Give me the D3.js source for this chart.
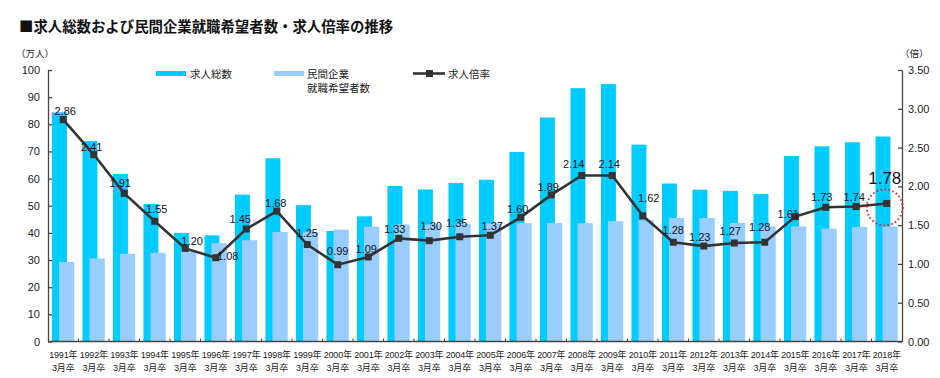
<!DOCTYPE html>
<html><head><meta charset="utf-8">
<script src="https://cdn.jsdelivr.net/npm/d3@7"></script>
<style>
body{margin:0;background:#fff;}
svg{display:block;font-family:"Liberation Sans","Noto Sans CJK JP",sans-serif;}
.jp{font-family:"Noto Sans CJK JP",sans-serif;}
.mix{font-family:"Liberation Sans","Noto Sans CJK JP",sans-serif;}
</style></head>
<body><svg id="c" width="940" height="378"></svg>
<script>
const years = ["1991","1992","1993","1994","1995","1996","1997","1998","1999","2000","2001","2002","2003","2004","2005","2006","2007","2008","2009","2010","2011","2012","2013","2014","2015","2016","2017","2018"];
const jobOffers = [84.4,73.8,61.7,50.7,40.0,39.1,54.1,67.5,50.2,40.7,46.1,57.3,56.0,58.4,59.6,69.8,82.5,93.3,94.8,72.5,58.2,55.9,55.5,54.3,68.3,71.9,73.4,75.5];
const applicants = [29.3,30.6,32.3,32.7,33.3,36.2,37.3,40.3,40.3,41.2,42.3,43.1,43.1,43.3,43.5,43.6,43.7,43.6,44.3,44.7,45.5,45.5,43.7,42.4,42.4,41.6,42.2,42.4];
const ratio = [2.86,2.41,1.91,1.55,1.20,1.08,1.45,1.68,1.25,0.99,1.09,1.33,1.30,1.35,1.37,1.60,1.89,2.14,2.14,1.62,1.28,1.23,1.27,1.28,1.61,1.73,1.74,1.78];
const leftTicks = [0,10,20,30,40,50,60,70,80,90,100];
const rightTicks = [0,0.5,1,1.5,2,2.5,3,3.5];
const seriesNames = ["求人総数","民間企業","就職希望者数","求人倍率"];
const title = "■求人総数および民間企業就職希望者数・求人倍率の推移";

// label offsets (dx, dy of label centre relative to point)
const lblOff = [[2,-9],[-2,-8],[-4,-10],[2,-12],[7,-7],[12,-2],[-6,-10],[-1,-8],[0,-11],[0,-14],[-2,-8],[-4,-9],[2,-15],[-3,-14],[2,-9],[-3,-8],[-3,-8],[-8,-11],[-3,-11],[6,-18],[0,-12],[-4,-9],[-4,-12],[-5,-15],[-7,-3],[-4,-10],[-2,-9],[-2,-26]];

const svg = d3.select("#c");
const L = 48, R = 902, T = 70, B = 341.5;
const x = d3.scaleBand().domain(years).range([L, R]).paddingInner(0).paddingOuter(0);
const yL = d3.scaleLinear().domain([0,100]).range([B, T]);
const yR = d3.scaleLinear().domain([0,3.5]).range([B, T]);
const bw = x.bandwidth();
const CYAN = "#00CCFF", LBLUE = "#99CCFF", LINE = "#333333", AX = "#444";

// title
svg.append("text").attr("class","jp").attr("x",19).attr("y",32).attr("font-size",14.4).attr("font-weight","bold").attr("fill","#111").text(title);
svg.append("text").attr("class","jp").attr("x",16).attr("y",57).attr("font-size",9.5).attr("fill","#222").text("（万人）");
svg.append("text").attr("class","jp").attr("x",900).attr("y",57).attr("font-size",9.5).attr("fill","#222").text("（倍）");

// bars
svg.append("g").selectAll("rect").data(jobOffers).join("rect")
  .attr("x",(d,i)=>x(years[i])+bw*0.13).attr("width",bw*0.49)
  .attr("y",d=>yL(d)).attr("height",d=>B-yL(d)).attr("fill",CYAN);
svg.append("g").selectAll("rect").data(applicants).join("rect")
  .attr("x",(d,i)=>x(years[i])+bw*0.36).attr("width",bw*0.5)
  .attr("y",d=>yL(d)).attr("height",d=>B-yL(d)).attr("fill",LBLUE);

// axes
const gl = svg.append("g").attr("transform",`translate(${L},0)`)
  .call(d3.axisLeft(yL).tickValues(leftTicks).tickSizeInner(-4).tickSizeOuter(0).tickPadding(8));
const gr = svg.append("g").attr("transform",`translate(${R},0)`)
  .call(d3.axisRight(yR).tickValues(rightTicks).tickFormat(d3.format(".2f")).tickSizeInner(-4).tickSizeOuter(0).tickPadding(6));
[gl,gr].forEach(g=>{
  g.selectAll("path,line").attr("stroke",AX).attr("stroke-width",1.3);
  g.selectAll("text").attr("font-size",11).attr("fill","#222").attr("font-family","Liberation Sans, sans-serif");
});
// x axis
const gx = svg.append("g");
gx.append("line").attr("x1",L).attr("x2",R).attr("y1",B).attr("y2",B).attr("stroke",AX).attr("stroke-width",1.3);
gx.selectAll("line.t").data(years.slice(1)).join("line").attr("class","t")
  .attr("x1",d=>x(d)).attr("x2",d=>x(d)).attr("y1",B).attr("y2",B-3).attr("stroke",AX);
const xt = gx.selectAll("text").data(years).join("text").attr("class","mix")
  .attr("text-anchor","middle").attr("font-size",9).attr("letter-spacing",-0.2).attr("fill","#222");
xt.append("tspan").attr("x",d=>x(d)+bw/2).attr("y",358).text(d=>d+"年");
xt.append("tspan").attr("x",d=>x(d)+bw/2).attr("y",371).text("3月卒");

// line
const cx = i => x(years[i])+bw/2;
const line = d3.line().x((d,i)=>cx(i)).y(d=>yR(d));
svg.append("path").datum(ratio).attr("d",line).attr("fill","none").attr("stroke",LINE).attr("stroke-width",2.6);
svg.append("g").selectAll("rect").data(ratio).join("rect")
  .attr("x",(d,i)=>cx(i)-3.5).attr("y",d=>yR(d)-3.5).attr("width",7).attr("height",7).attr("fill",LINE);

// labels
svg.append("g").selectAll("text").data(ratio).join("text")
  .attr("x",(d,i)=>cx(i)+lblOff[i][0]).attr("y",(d,i)=>yR(d)+lblOff[i][1])
  .attr("dy","0.36em")
  .attr("text-anchor","middle").attr("font-size",(d,i)=>i===ratio.length-1?17:11)
  .attr("fill","#111").text(d=>d3.format(".2f")(d));

// red dotted circle on last point
const li = ratio.length-1;
svg.append("circle").attr("cx",cx(li)-2).attr("cy",yR(ratio[li])+4).attr("r",18)
  .attr("fill","none").attr("stroke","#E8202A").attr("stroke-width",2).attr("stroke-dasharray","1.5,2.5");

// legend
const lg = svg.append("g").attr("class","jp").attr("font-size",10.5).attr("fill","#222");
lg.append("rect").attr("x",156).attr("y",71).attr("width",30).attr("height",5).attr("fill",CYAN);
lg.append("text").attr("x",190).attr("y",78).text(seriesNames[0]);
lg.append("rect").attr("x",274).attr("y",71).attr("width",30).attr("height",5).attr("fill",LBLUE);
lg.append("text").attr("x",307).attr("y",78).text(seriesNames[1]);
lg.append("text").attr("x",307).attr("y",92).text(seriesNames[2]);
lg.append("line").attr("x1",413).attr("x2",445).attr("y1",73.5).attr("y2",73.5).attr("stroke",LINE).attr("stroke-width",2.6);
lg.append("rect").attr("x",426).attr("y",70).attr("width",7).attr("height",7).attr("fill",LINE);
lg.append("text").attr("x",448).attr("y",78).text(seriesNames[3]);
</script></body></html>
